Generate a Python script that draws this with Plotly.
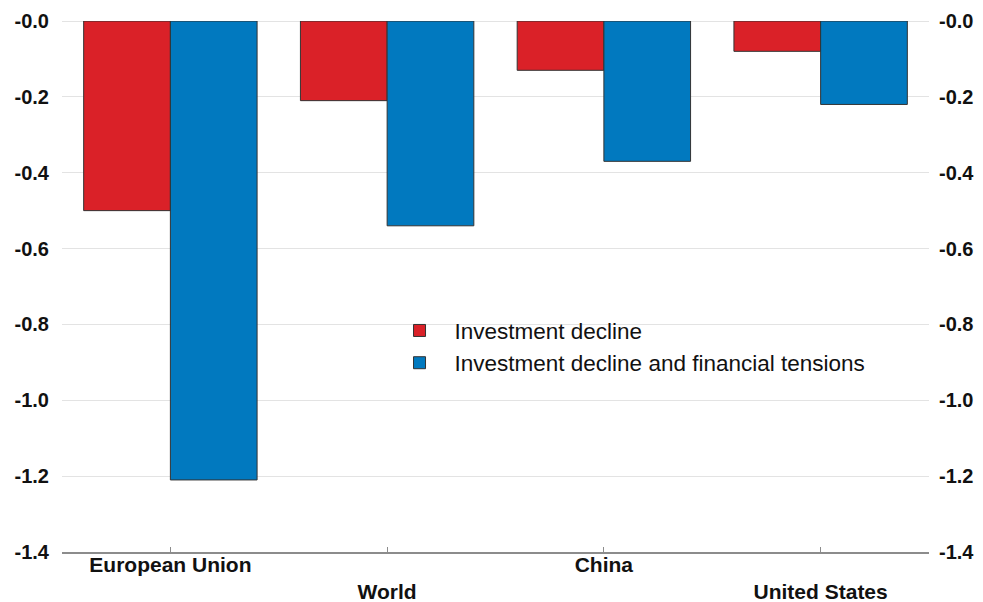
import plotly.graph_objects as go

categories = ["European Union", "World", "China", "United States"]
tick_labels_x = ["European Union", "<br>World", "China", "<br>United States"]
series_names = ["Investment decline", "Investment decline and financial tensions"]
invest_decline = [-0.50, -0.21, -0.13, -0.08]
invest_fin = [-1.21, -0.54, -0.37, -0.22]
y_tickvals = [0, -0.2, -0.4, -0.6, -0.8, -1.0, -1.2, -1.4]
y_ticktext = ["-0.0", "-0.2", "-0.4", "-0.6", "-0.8", "-1.0", "-1.2", "-1.4"]

RED = "#da2128"
BLUE = "#0179bf"
FONT = "Liberation Sans"

fig = go.Figure()
fig.add_trace(go.Bar(x=categories, y=invest_decline, name=series_names[0],
                     marker=dict(color=RED, line=dict(color="#333333", width=1))))
fig.add_trace(go.Bar(x=categories, y=invest_fin, name=series_names[1],
                     marker=dict(color=BLUE, line=dict(color="#333333", width=1))))
# invisible trace to anchor the right-hand axis
fig.add_trace(go.Scatter(x=categories, y=invest_fin, yaxis="y2", mode="markers",
                         marker=dict(opacity=0), showlegend=False, hoverinfo="skip"))

yaxis_common = dict(range=[-1.4, 0], tickvals=y_tickvals, ticktext=y_ticktext,
                    tickfont=dict(family=FONT, size=20, color="#111111", weight="bold"),
                    ticks="", automargin=False)

# page body has an 8px margin, so the figure is sized/offset to compensate
fig.update_layout(
    width=975, height=594,
    margin=dict(l=54, r=54, t=13, b=50, autoexpand=False),
    paper_bgcolor="white", plot_bgcolor="white",
    barmode="group", bargap=0.2, bargroupgap=0,
    font=dict(family=FONT),
    xaxis=dict(tickvals=categories, ticktext=tick_labels_x, showline=True,
               linecolor="#8c8c8c", linewidth=1.5, ticks="inside", ticklen=5,
               tickcolor="#8c8c8c", tickwidth=1, showgrid=False,
               tickfont=dict(family=FONT, size=21, color="#111111", weight="bold"),
               range=[-0.5, 3.5], ticklabelstandoff=-7, automargin=False),
    yaxis=dict(**yaxis_common, ticklabelstandoff=12, showgrid=True,
               gridcolor="#e3e3e3", gridwidth=1,
               zeroline=True, zerolinecolor="#e3e3e3", zerolinewidth=1),
    yaxis2=dict(**yaxis_common, ticklabelstandoff=9, overlaying="y", side="right",
                showgrid=False, zeroline=False),
    legend=dict(x=0.372, y=0.457, xanchor="left", yanchor="top",
                font=dict(family=FONT, size=22.5, color="#111111"),
                bgcolor="rgba(0,0,0,0)", itemwidth=60, tracegroupgap=0),
    showlegend=True,
)

fig.write_html("out.html")
